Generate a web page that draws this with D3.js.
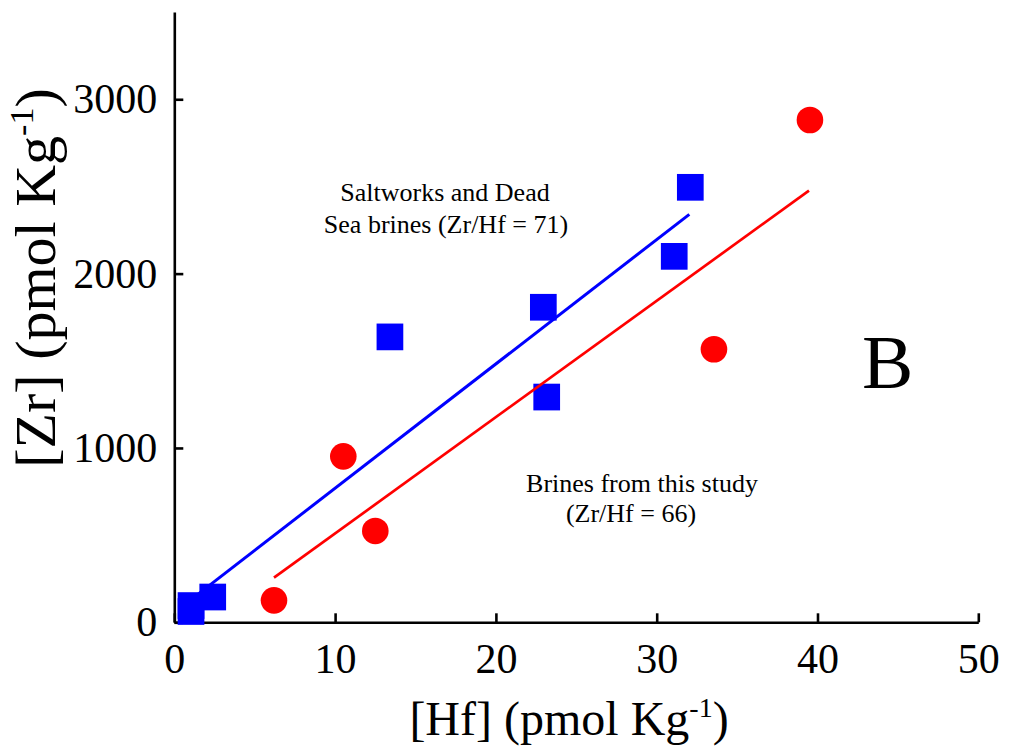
<!DOCTYPE html>
<html>
<head>
<meta charset="utf-8">
<script src="https://cdn.jsdelivr.net/npm/d3@7"></script>
<style>
  html, body { margin: 0; padding: 0; background: #fff; }
  svg { display: block; }
  text { font-family: "Liberation Serif", "Times New Roman", serif; fill: #000; }
</style>
</head>
<body>
<svg id="chart" width="1010" height="751"></svg>
<script>
// ---- data ----
const saltworksHf = [1.04, 1.04, 2.39, 13.41, 22.95, 23.16, 31.09, 32.09];
const saltworksZr = [96, 62, 145, 1637, 1807, 1292, 2099, 2495];
const studyHf = [6.20, 10.51, 12.50, 33.56, 39.53];
const studyZr = [126, 952, 524, 1566, 2881];
const saltworksFitHf = [1.5, 32.03];
const saltworksFitZr = [163, 2340];
const studyFitHf = [6.20, 39.47];
const studyFitZr = [256, 2476];
const xTicks = [0, 10, 20, 30, 40, 50];
const yTicks = [0, 1000, 2000, 3000];
const xDomain = [0, 50];
const yDomain = [0, 3500];

const svg = d3.select("#chart");
const x = d3.scaleLinear().domain(xDomain).range([174.3, 978.3]);
const y = d3.scaleLinear().domain(yDomain).range([622.3, 12.1]);

// axes
const xAxis = d3.axisBottom(x).tickValues(xTicks).tickSizeInner(-9).tickSizeOuter(0).tickPadding(21).tickFormat(d3.format("d"));
const yAxis = d3.axisLeft(y).tickValues(yTicks).tickSizeInner(-9).tickSizeOuter(0).tickPadding(17).tickFormat(d3.format("d"));

const gx = svg.append("g").attr("transform", "translate(0,622.3)").call(xAxis);
const gy = svg.append("g").attr("transform", "translate(174.3,0)").call(yAxis);
[gx, gy].forEach(g => {
  g.select(".domain").attr("stroke", "#000").attr("stroke-width", 2.6);
  g.selectAll(".tick line").attr("stroke", "#000").attr("stroke-width", 2.6);
  g.selectAll(".tick text").attr("font-family", "Liberation Serif, Times New Roman, serif").attr("font-size", 42).attr("fill", "#000");
});

// markers
const sq = 26.7;
svg.append("g").selectAll("rect")
  .data(saltworksHf.map((h, i) => [h, saltworksZr[i]]))
  .join("rect")
  .attr("x", d => x(d[0]) - sq / 2)
  .attr("y", d => y(d[1]) - sq / 2)
  .attr("width", sq).attr("height", sq)
  .attr("fill", "#0000ff");

svg.append("g").selectAll("circle")
  .data(studyHf.map((h, i) => [h, studyZr[i]]))
  .join("circle")
  .attr("cx", d => x(d[0]))
  .attr("cy", d => y(d[1]))
  .attr("r", 13.3)
  .attr("fill", "#ff0000");

// fit lines
const line = d3.line().x(d => x(d[0])).y(d => y(d[1]));
svg.append("path")
  .datum(saltworksFitHf.map((h, i) => [h, saltworksFitZr[i]]))
  .attr("d", line).attr("fill", "none").attr("stroke", "#0000ff").attr("stroke-width", 3);
svg.append("path")
  .datum(studyFitHf.map((h, i) => [h, studyFitZr[i]]))
  .attr("d", line).attr("fill", "none").attr("stroke", "#ff0000").attr("stroke-width", 2.7);

// annotations
const ann = svg.append("g").attr("font-size", 26);
ann.append("text").attr("x", 445).attr("y", 201).attr("text-anchor", "middle").text("Saltworks and Dead");
ann.append("text").attr("x", 446).attr("y", 233).attr("text-anchor", "middle").text("Sea brines (Zr/Hf = 71)");
ann.append("text").attr("x", 642).attr("y", 491.5).attr("text-anchor", "middle").text("Brines from this study");
ann.append("text").attr("x", 631).attr("y", 522).attr("text-anchor", "middle").text("(Zr/Hf = 66)");

svg.append("text").attr("x", 862).attr("y", 388).attr("font-size", 77).text("B");

// axis titles
const xt = svg.append("text").attr("x", 569).attr("y", 735).attr("text-anchor", "middle").attr("font-size", 48);
xt.append("tspan").text("[Hf] (pmol Kg");
xt.append("tspan").attr("font-size", 28).attr("dy", -18).text("-1");
xt.append("tspan").attr("dy", 18).text(")");

const yt = svg.append("text").attr("transform", "translate(55,278) rotate(-90)").attr("text-anchor", "middle").attr("font-size", 58);
yt.append("tspan").text("[Zr] (pmol Kg");
yt.append("tspan").attr("font-size", 34).attr("dy", -22).text("-1");
yt.append("tspan").attr("dy", 22).text(")");
</script>
</body>
</html>
